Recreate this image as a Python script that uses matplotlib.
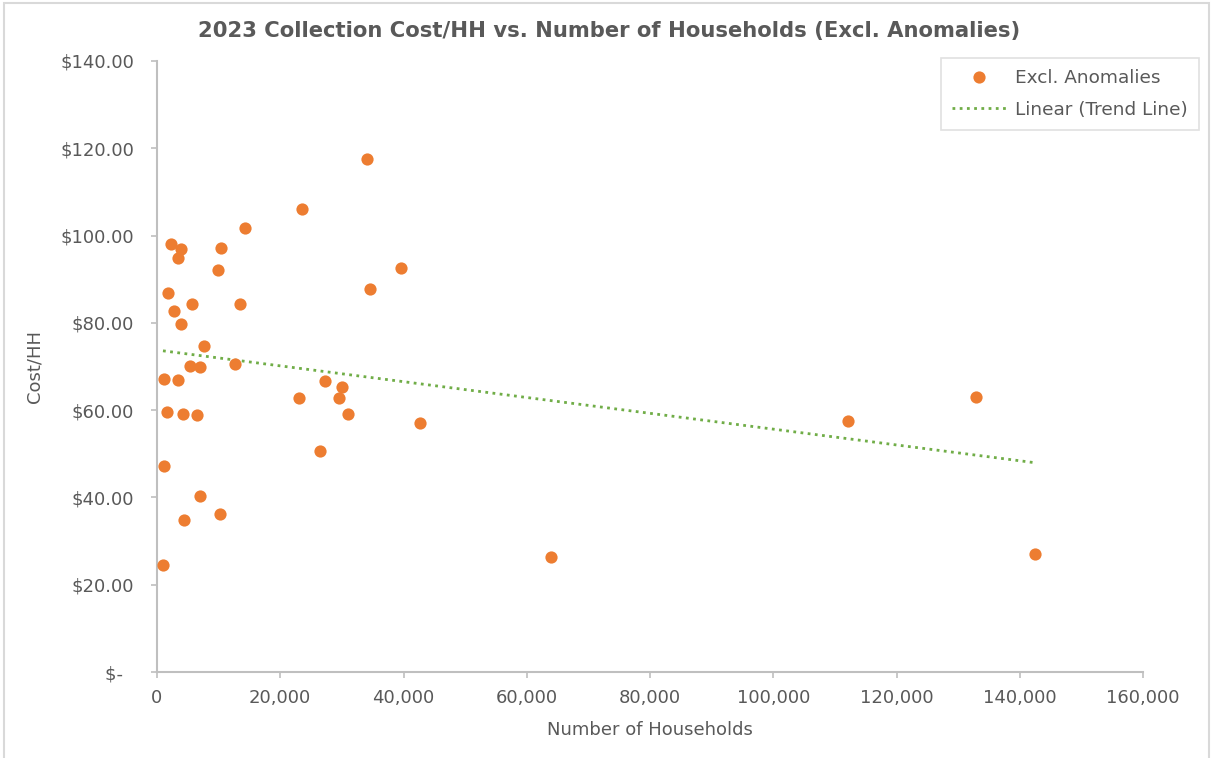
import matplotlib.pyplot as plt
import numpy as np
from matplotlib.ticker import FuncFormatter

# households vs collection cost per household, 2023 (anomalies removed)
households = [970, 1136, 1136, 1623, 2272, 1785, 2759, 3408, 3408, 3895,
              3895, 4219, 4381, 5355, 5679, 6491, 6978, 6978, 7627, 9898,
              10222, 10385, 12657, 13468, 14280, 23042, 23529, 26450, 27261, 29533,
              30019, 30993, 34076, 34563, 39593, 42677, 63934, 112127, 132899, 142470]
cost_per_hh = [24.5, 47.2, 67.1, 59.6, 98.1, 86.8, 82.7, 66.9, 94.9, 96.9,
               79.7, 59.1, 34.8, 70.1, 84.3, 58.9, 40.3, 69.9, 74.7, 92.1,
               36.2, 97.1, 70.6, 84.3, 101.7, 62.8, 106.1, 50.6, 66.7, 62.8,
               65.3, 59.1, 117.5, 87.8, 92.6, 57.1, 26.4, 57.5, 63.0, 27.0]

orange = '#ED7D31'
green = '#70AD47'
text_col = '#595959'
axis_col = '#BFBFBF'

plt.rcParams['font.family'] = ['DejaVu Sans']

fig = plt.figure(figsize=(12.13, 7.58), dpi=100)
ax = fig.add_axes([157 / 1213, 1 - 672 / 758, 986 / 1213, 611 / 758])

x = np.array(households, dtype=float)
y = np.array(cost_per_hh, dtype=float)

ax.plot(x, y, 'o', color=orange, markersize=8.8, markeredgewidth=0, label='Excl. Anomalies', zorder=3)

# least squares trend line across the data range
slope, intercept = np.polyfit(x, y, 1)
xt = np.array([x.min(), x.max()])
ax.plot(xt, slope * xt + intercept, linestyle=(0, (1, 1.6)), color=green, linewidth=2,
        label='Linear (Trend Line)', zorder=2)

ax.set_xlim(0, 160000)
ax.set_ylim(0, 140)
ax.set_xticks(np.arange(0, 160001, 20000))
ax.set_yticks(np.arange(0, 141, 20))
ax.xaxis.set_major_formatter(FuncFormatter(lambda v, p: f'{v:,.0f}'))
ax.yaxis.set_major_formatter(FuncFormatter(lambda v, p: '$-  ' if v == 0 else f'${v:,.2f}'))

for side in ['top', 'right']:
    ax.spines[side].set_visible(False)
for side in ['left', 'bottom']:
    ax.spines[side].set_color(axis_col)
    ax.spines[side].set_linewidth(1.5)
ax.tick_params(axis='both', colors=axis_col, labelcolor=text_col, labelsize=13, length=4.5, width=1.2)
ax.tick_params(axis='y', pad=12)
ax.tick_params(axis='x', pad=8)

ax.set_xlabel('Number of Households', color=text_col, fontsize=13, labelpad=10)
ax.set_ylabel('Cost/HH', color=text_col, fontsize=13, labelpad=12)
fig.text(0.502, 1 - 31 / 758, '2023 Collection Cost/HH vs. Number of Households (Excl. Anomalies)',
         color=text_col, fontsize=15.2, fontweight='bold', ha='center', va='center')

leg = ax.legend(loc='upper right', bbox_to_anchor=(1.057, 1.005), borderaxespad=0, fontsize=13.3,
                frameon=True, fancybox=False, edgecolor='#D9D9D9', labelcolor=text_col,
                handlelength=3.0, handletextpad=0.45, borderpad=0.6, labelspacing=0.75)
leg.get_frame().set_linewidth(1.2)

# light outer border around the chart
fig.patches.append(plt.Rectangle((0.003, -0.01), 0.994, 1.006, transform=fig.transFigure,
                                 fill=False, edgecolor='#D9D9D9', linewidth=1.5))

fig.savefig('out.png', dpi=100)
